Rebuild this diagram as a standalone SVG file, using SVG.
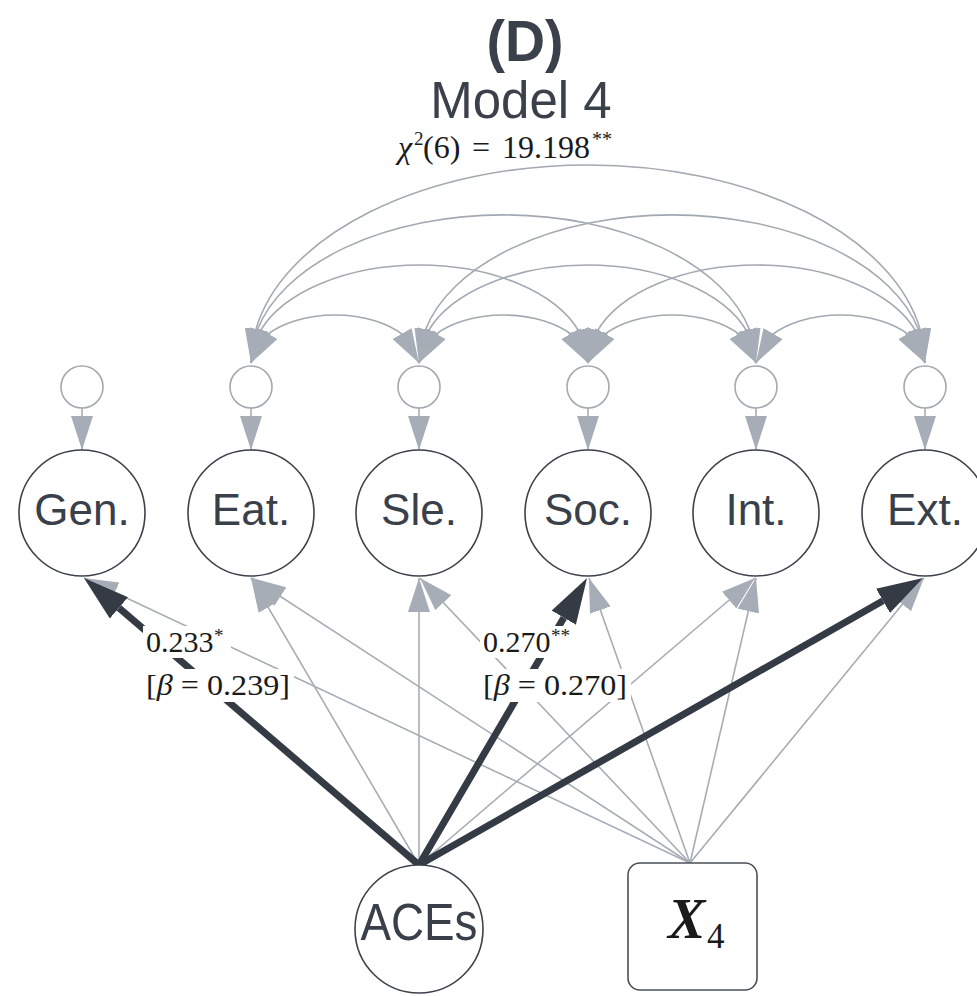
<svg xmlns="http://www.w3.org/2000/svg" width="977" height="996" viewBox="0 0 977 996">
  <style>
    .title { font-family: "Liberation Sans", Arial, sans-serif; fill: #3b414b; text-anchor: middle; }
    .math { font-family: "Liberation Serif", "Times New Roman", serif; fill: #1a1a1a; }
    .it { font-style: italic; }
    .node { fill: #ffffff; stroke: #3c424c; stroke-width: 1.6; }
    .err { fill: #ffffff; stroke: #a3a9b1; stroke-width: 1.6; }
    .lbl { font-family: "Liberation Sans", Arial, sans-serif; font-size: 44px; fill: #3a404a; text-anchor: middle; }
    .cov { fill: none; stroke: #a3a9b1; stroke-width: 1.6; marker-start: url(#headGrey); marker-end: url(#headGrey); }
    .thin { fill: none; stroke: #a7adb5; stroke-width: 1.6; marker-end: url(#headGrey); }
    .thick { fill: none; stroke: #353b45; stroke-width: 7; marker-end: url(#headDark); }
    .bg { fill: #ffffff; }
  </style>
  <defs>
    <marker id="headGrey" viewBox="0 0 34 22" markerWidth="34" markerHeight="22" refX="34" refY="11" orient="auto-start-reverse" markerUnits="userSpaceOnUse">
      <path d="M0,0 L34,11 L0,22 z" fill="#a7adb6"/>
    </marker>
    <marker id="headDark" viewBox="0 0 46 28" markerWidth="46" markerHeight="28" refX="0" refY="14" orient="auto" markerUnits="userSpaceOnUse">
      <path d="M0,0 L46,14 L0,28 z" fill="#353b45"/>
    </marker>
  </defs>

  <!-- heading -->
  <text class="title" x="525" y="61" font-size="58" font-weight="bold" textLength="77" lengthAdjust="spacingAndGlyphs">(D)</text>
  <text class="title" x="521" y="118" font-size="51">Model 4</text>
  <text class="math" y="158" font-size="32">
    <tspan class="it" x="398">χ</tspan><tspan x="414" y="145" font-size="19">2</tspan><tspan x="423" y="158">(6)</tspan><tspan x="472">=</tspan><tspan x="502">19.198</tspan><tspan x="592" y="146" font-size="20">**</tspan>
  </text>

  <!-- residual covariances between outcomes -->
  <g id="covariances">
    <path class="cov" d="M251,363 L267.5,334.45 A84,48 0 0 1 402.5,334.45 L419,363"/>
    <path class="cov" d="M419,363 L435.6,334.45 A84.5,48 0 0 1 571.4,334.45 L588,363"/>
    <path class="cov" d="M588,363 L604.5,334.45 A84,48 0 0 1 739.5,334.45 L756,363"/>
    <path class="cov" d="M756,363 L772.6,334.45 A84.5,48 0 0 1 908.4,334.45 L925,363"/>
    <path class="cov" d="M251,363 L260.1,331.25 A168.5,98 0 0 1 578.9,331.25 L588,363"/>
    <path class="cov" d="M419,363 L428.1,331.25 A168.5,98 0 0 1 746.9,331.25 L756,363"/>
    <path class="cov" d="M588,363 L597.1,331.25 A168.5,98 0 0 1 915.9,331.25 L925,363"/>
    <path class="cov" d="M251,363 L257.1,330.56 A252.5,148 0 0 1 749.9,330.56 L756,363"/>
    <path class="cov" d="M419,363 L425.1,330.56 A253,148 0 0 1 918.9,330.56 L925,363"/>
    <path class="cov" d="M251,363 L255.6,330.33 A337,198 0 0 1 920.4,330.33 L925,363"/>
  </g>

  <!-- error terms -->
  <g id="errors">
    <circle class="err" cx="82" cy="387" r="21"/>
    <circle class="err" cx="251" cy="387" r="21"/>
    <circle class="err" cx="419" cy="387" r="21"/>
    <circle class="err" cx="588" cy="387" r="21"/>
    <circle class="err" cx="756" cy="387" r="21"/>
    <circle class="err" cx="925" cy="387" r="21"/>
    <path class="thin" d="M82,408 L82,450"/>
    <path class="thin" d="M251,408 L251,450"/>
    <path class="thin" d="M419,408 L419,450"/>
    <path class="thin" d="M588,408 L588,450"/>
    <path class="thin" d="M756,408 L756,450"/>
    <path class="thin" d="M925,408 L925,450"/>
  </g>

  <!-- regression paths -->
  <g id="connectors">
    <path class="thin" d="M690,863 L84,578"/>
    <path class="thin" d="M690,863 L252,578"/>
    <path class="thin" d="M690,863 L420,578"/>
    <path class="thin" d="M690,863 L589,578"/>
    <path class="thin" d="M690,863 L756,578"/>
    <path class="thin" d="M690,863 L924,578"/>
    <path class="thin" d="M419,865 L251,578"/>
    <path class="thin" d="M419,865 L419,578"/>
    <path class="thin" d="M419,865 L755,578"/>
    <path class="thick" d="M419,865 L118.9,607.9"/>
    <path class="thick" d="M419,865 L563.8,617.7"/>
    <path class="thick" d="M419,865 L883,600.8"/>
  </g>

  <!-- path estimates -->
  <g id="label-gen">
    <rect class="bg" x="143" y="626" width="88" height="32"/>
    <rect class="bg" x="143" y="669" width="151" height="33"/>
    <text class="math" font-size="30"><tspan x="146" y="652">0.233</tspan><tspan x="214" y="642" font-size="19">*</tspan></text>
    <text class="math" font-size="30" x="146" y="695" textLength="144" lengthAdjust="spacingAndGlyphs">[<tspan class="it">β</tspan> = 0.239]</text>
  </g>
  <g id="label-soc">
    <rect class="bg" x="480" y="626" width="99" height="32"/>
    <rect class="bg" x="480" y="669" width="151" height="33"/>
    <text class="math" font-size="30"><tspan x="483" y="652">0.270</tspan><tspan x="551" y="642" font-size="19">**</tspan></text>
    <text class="math" font-size="30" x="483" y="695" textLength="144" lengthAdjust="spacingAndGlyphs">[<tspan class="it">β</tspan> = 0.270]</text>
  </g>

  <!-- outcome nodes -->
  <g id="node-gen"><circle class="node" cx="82" cy="513" r="63"/><text class="lbl" x="82" y="525">Gen.</text></g>
  <g id="node-eat"><circle class="node" cx="251" cy="513" r="63"/><text class="lbl" x="251" y="525">Eat.</text></g>
  <g id="node-sle"><circle class="node" cx="419" cy="513" r="63"/><text class="lbl" x="419" y="525">Sle.</text></g>
  <g id="node-soc"><circle class="node" cx="588" cy="513" r="63"/><text class="lbl" x="588" y="525">Soc.</text></g>
  <g id="node-int"><circle class="node" cx="756" cy="513" r="63"/><text class="lbl" x="756" y="525">Int.</text></g>
  <g id="node-ext"><circle class="node" cx="925" cy="513" r="63"/><text class="lbl" x="925" y="525">Ext.</text></g>

  <!-- predictors -->
  <g id="node-aces">
    <circle class="node" cx="419" cy="929" r="64"/>
    <text class="lbl" x="419" y="940" style="font-size:51px" textLength="117" lengthAdjust="spacingAndGlyphs">ACEs</text>
  </g>
  <g id="node-x4">
    <rect x="628" y="863" width="129" height="127" rx="12" ry="12" fill="#ffffff" stroke="#4a5059" stroke-width="1.6"/>
    <text class="math" fill="#111111"><tspan class="it" x="668" y="938" font-size="56" font-weight="bold">X</tspan><tspan x="707" y="948" font-size="35">4</tspan></text>
  </g>
</svg>
